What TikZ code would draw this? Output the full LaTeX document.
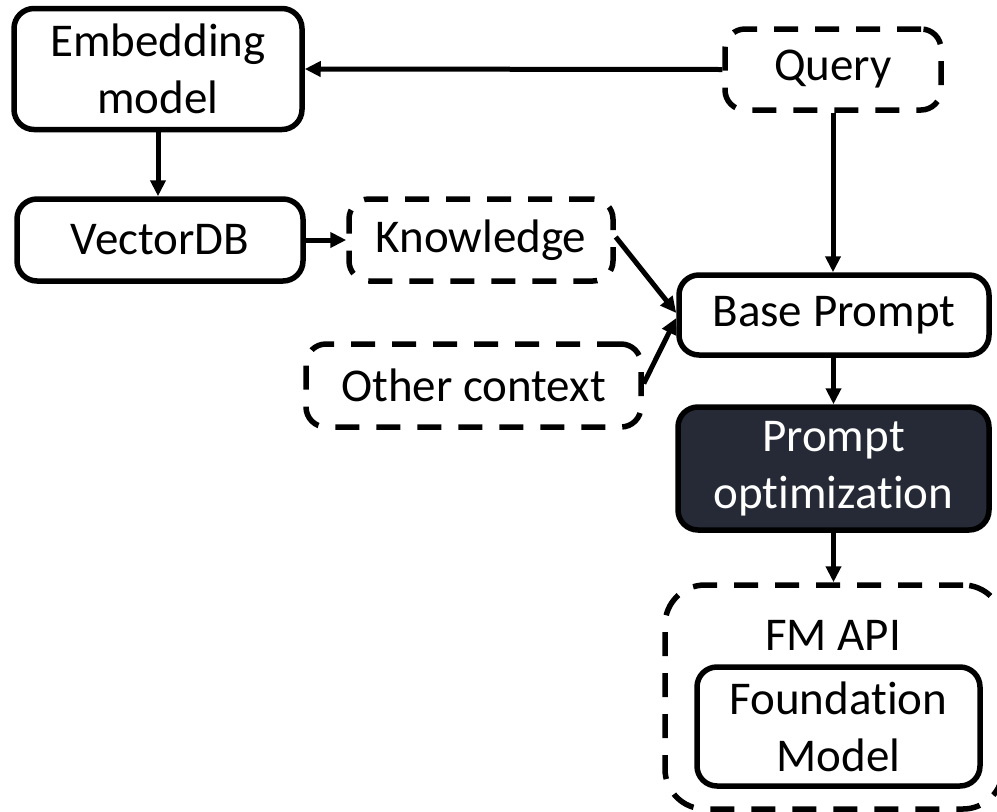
\documentclass[tikz,border=0pt]{standalone}
\usepackage{fontspec}
\setmainfont[Ligatures=NoCommon]{Carlito}
\usetikzlibrary{arrows.meta}
\definecolor{darkbox}{RGB}{37,42,54}
\tikzset{
  box/.style={draw=black, line width=5.5pt, rounded corners=20pt, fill=white, align=center, inner sep=0pt,
    font=\fontsize{47}{57}\selectfont},
  dbox/.style={box, dash pattern=on 24pt off 17pt},
  darknode/.style={box, fill=darkbox, text=white},
  conn/.style={line width=5pt, -{Triangle[length=16pt,width=15pt]}},
}
\begin{document}
\begin{tikzpicture}[x=1pt,y=-1pt]
\useasboundingbox (0,0) rectangle (997,812);
\node[dbox, rounded corners=40pt, minimum width=338pt, minimum height=224pt] (fmapi) at (834,697) {};
\node[font=\fontsize{47}{57}\selectfont, inner sep=0pt] (fmlabel) at (833,635) {FM API};
\node[box, minimum width=283pt, minimum height=119pt] (found) at (838.5,726.5) {Foundation\\Model};
\node[box, minimum width=288pt, minimum height=121pt] (emb) at (158,69) {Embedding\\model};
\node[box, minimum width=286pt, minimum height=82pt] (vdb) at (160,240) {VectorDB};
\node[dbox, minimum width=264pt, minimum height=82pt] (know) at (481,240) {Knowledge};
\node[dbox, minimum width=216pt, minimum height=81pt] (query) at (833,69.5) {Query};
\node[box, minimum width=310pt, minimum height=80pt] (bp) at (834,315) {Base Prompt};
\node[dbox, minimum width=335pt, minimum height=83pt] (other) at (473.5,385.5) {Other context};
\node[darknode, minimum width=311pt, minimum height=123pt] (popt) at (833.5,468.5) {Prompt\\optimization};

\draw[conn] (query.west) -- (emb.east);
\draw[conn] (emb.south) -- (emb.south |- vdb.north);
\draw[conn] (vdb.east) -- (know.west);
\draw[conn] (query.south) -- (query.south |- bp.north);
\draw[conn] ([yshift=3pt]know.east) -- ([yshift=2pt]bp.west);
\draw[conn] ([yshift=2pt]other.east) -- ([yshift=-3pt]bp.west);
\draw[conn] (popt.north |- bp.south) -- (popt.north);
\draw[conn] (popt.south) -- (popt.south |- fmapi.north);
\end{tikzpicture}
\end{document}
